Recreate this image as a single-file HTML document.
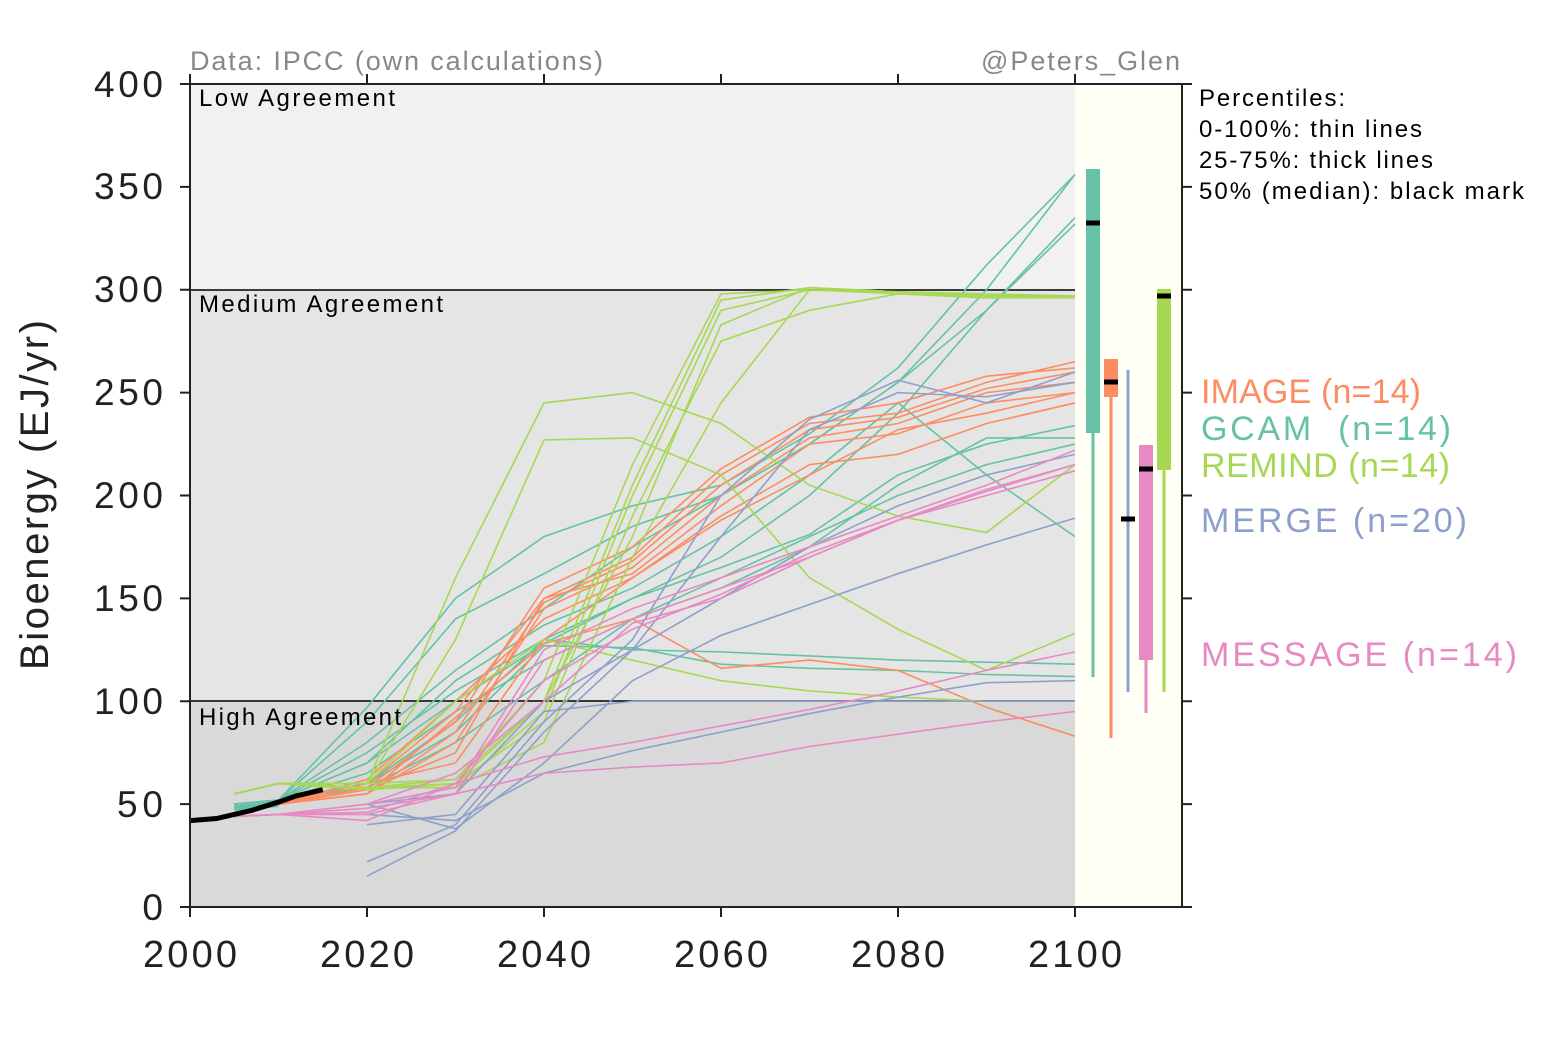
<!DOCTYPE html>
<html><head><meta charset="utf-8"><style>
body{margin:0;background:#fff;}
svg text{font-family:"Liberation Sans",Arial,sans-serif;}
</style></head><body>
<svg id="s" width="1563" height="1042" xmlns="http://www.w3.org/2000/svg">
<rect x="0" y="0" width="1563" height="1042" fill="#fff"/>
<rect x="190" y="84" width="885" height="206" fill="#f1f1f1"/>
<rect x="190" y="290" width="885" height="411" fill="#e5e5e5"/>
<rect x="190" y="701" width="885" height="206" fill="#d9d9d9"/>
<rect x="1075" y="84" width="107" height="823" fill="#fffff6"/>
<line x1="190" y1="290" x2="1075" y2="290" stroke="#000" stroke-width="1.5"/>
<line x1="190" y1="701" x2="1075" y2="701" stroke="#000" stroke-width="1.5"/>
<g id="lines" fill="none" stroke-width="1.6"></g>
<g id="boxes"></g>
<rect x="190" y="84" width="992" height="823" fill="none" stroke="#222" stroke-width="2"/>
<g id="ticks" stroke="#222" stroke-width="2"></g>
<g font-size="37" fill="#222" text-anchor="end">
<text x="163" y="920">0</text><text x="163" y="817" textLength="46">50</text><text x="163" y="714" textLength="69">100</text><text x="163" y="611" textLength="69">150</text><text x="163" y="508" textLength="69">200</text><text x="163" y="405" textLength="69">250</text><text x="163" y="302" textLength="69">300</text><text x="163" y="199" textLength="69">350</text><text x="163" y="97" textLength="69">400</text>
</g>
<g font-size="38" fill="#222">
<text x="143" y="967" textLength="94">2000</text><text x="320" y="967" textLength="94">2020</text><text x="497" y="967" textLength="94">2040</text><text x="674" y="967" textLength="94">2060</text><text x="851" y="967" textLength="94">2080</text><text x="1028" y="967" textLength="94">2100</text>
</g>
<text transform="translate(48,670) rotate(-90)" font-size="40" fill="#222" textLength="350">Bioenergy (EJ/yr)</text>
<text x="190" y="70" font-size="27" fill="#888" textLength="413">Data: IPCC (own calculations)</text>
<text x="981" y="70" font-size="27" fill="#888" textLength="199">@Peters_Glen</text>
<g font-size="24" fill="#000">
<text x="199" y="106" textLength="196">Low Agreement</text>
<text x="199" y="312" textLength="244">Medium Agreement</text>
<text x="199" y="725" textLength="202">High Agreement</text>
<text x="1199" y="106" textLength="146">Percentiles:</text>
<text x="1199" y="137" textLength="223">0-100%: thin lines</text>
<text x="1199" y="168" textLength="234">25-75%: thick lines</text>
<text x="1199" y="199" textLength="325">50% (median): black mark</text>
</g>
<g font-size="34">
<text x="1201" y="403" fill="#fc8d62" textLength="220">IMAGE (n=14)</text>
<text x="1201" y="440" fill="#66c2a5" textLength="250" xml:space="preserve">GCAM  (n=14)</text>
<text x="1201" y="477" fill="#a6d854" textLength="249">REMIND (n=14)</text>
<text x="1201" y="532" fill="#8da0cb" textLength="266">MERGE (n=20)</text>
<text x="1201" y="666" fill="#e78ac3" textLength="316">MESSAGE (n=14)</text>
</g>
</svg>
<script>
const NS="http://www.w3.org/2000/svg";
const X=y=>190+(y-2000)*8.85, Y=v=>907-v*2.0575;
const g=document.getElementById('lines');
function pl(pts,c,w){const p=document.createElementNS(NS,'polyline');p.setAttribute('points',pts.map(a=>X(a[0])+','+Y(a[1])).join(' '));p.setAttribute('stroke',c);if(w)p.setAttribute('stroke-width',w);g.appendChild(p);}
const yrs=[2005,2010,2020,2030,2040,2050,2060,2070,2080,2090,2100];
function S(c,arr){arr.forEach(v=>{const pts=[];v.forEach((x,i)=>{if(x!==null)pts.push([yrs[i],x]);});pl(pts,c);});}
const GC='#66c2a5',IM='#fc8d62',RE='#a6d854',ME='#8da0cb',MS='#e78ac3';
S(GC,[
[50,52,97,150,180,195,205,230,262,312,356],
[50,52,90,140,162,185,200,225,255,300,356],
[50,52,80,115,145,175,200,225,255,290,335],
[50,52,75,105,130,150,170,200,240,290,332],
[50,52,70,100,128,150,165,181,210,225,234],
[50,52,65,95,120,140,155,175,205,228,228],
[50,52,60,90,130,125,124,122,120,119,118],
[50,52,60,85,127,126,118,116,115,113,112],
[50,52,70,110,137,155,180,210,245,210,180],
[50,52,58,80,110,140,160,180,200,215,225]]);
S(IM,[
[44,50,60,95,150,170,210,235,240,255,265],
[44,50,58,90,155,175,213,238,245,258,262],
[44,50,55,85,148,168,205,232,238,252,260],
[44,50,55,80,145,165,200,228,235,250,255],
[44,50,57,75,150,162,195,225,230,245,250],
[44,50,60,70,130,160,190,215,220,235,245],
[44,50,62,100,140,160,188,210,232,240,250],
[44,50,55,92,128,140,116,120,115,97,83]]);
S(RE,[
[55,60,60,160,245,250,235,205,190,182,215],
[55,60,60,130,227,228,210,160,135,115,133],
[55,60,58,62,110,215,298,300,298,297,297],
[55,60,58,60,100,205,295,301,299,297,297],
[55,60,58,58,95,200,290,300,299,297,297],
[55,60,57,60,90,190,275,290,298,296,296],
[55,60,60,100,130,120,110,105,102,100,100],
[55,60,58,58,80,170,245,300,299,298,297],
[55,60,60,62,100,180,283,301,299,297,297]]);
S(ME,[
[null,null,22,40,90,130,200,237,256,245,260],
[null,null,15,37,85,125,180,232,250,248,255],
[null,null,50,38,70,110,132,147,162,176,189],
[null,null,45,42,65,76,85,94,102,109,110],
[null,null,40,45,95,100,100,100,100,100,100],
[null,null,50,55,100,125,150,175,195,210,220]]);
S(MS,[
[44,45,50,58,125,145,160,175,190,205,222],
[44,45,48,55,120,140,155,170,188,202,215],
[44,45,46,60,110,135,152,172,188,200,212],
[44,45,42,60,73,80,88,96,105,115,124],
[44,45,45,55,65,68,70,78,84,90,95],
[44,45,50,65,100,138,150,170,188,203,215]]);
pl([[2005,48],[2010,50]],GC,6);
pl([[2000,42],[2003,43],[2007,47],[2010,51],[2012,54],[2015,57]],'#000',5);
const b=document.getElementById('boxes');
function r(x,y,w,h,c){const e=document.createElementNS(NS,'rect');e.setAttribute('x',x);e.setAttribute('y',y);e.setAttribute('width',w);e.setAttribute('height',h);e.setAttribute('fill',c);b.appendChild(e);}
[[1093,169,433,677,223,GC],[1111,359,397,738,382,IM],[1128,null,null,692,519,ME,370],[1146,445,660,713,469,MS],[1164,289,470,692,296,RE]].forEach(a=>{
 const [cx,t,bt,lo,md,c,top]=a;
 r(cx-1.5,top||t,3,lo-(top||t),c);
 if(t!==null)r(cx-7,t,14,bt-t,c);
 r(cx-7,md-2.5,14,5,'#000');
});
const tk=document.getElementById('ticks');
function L(x1,y1,x2,y2){const e=document.createElementNS(NS,'line');e.setAttribute('x1',x1);e.setAttribute('y1',y1);e.setAttribute('x2',x2);e.setAttribute('y2',y2);tk.appendChild(e);}
for(let i=0;i<=5;i++){const x=190+i*177;L(x,907,x,917);L(x,84,x,74);}
for(let v=0;v<=400;v+=50){const y=Y(v);L(180,y,190,y);L(1182,y,1192,y);}
</script>
</body></html>
